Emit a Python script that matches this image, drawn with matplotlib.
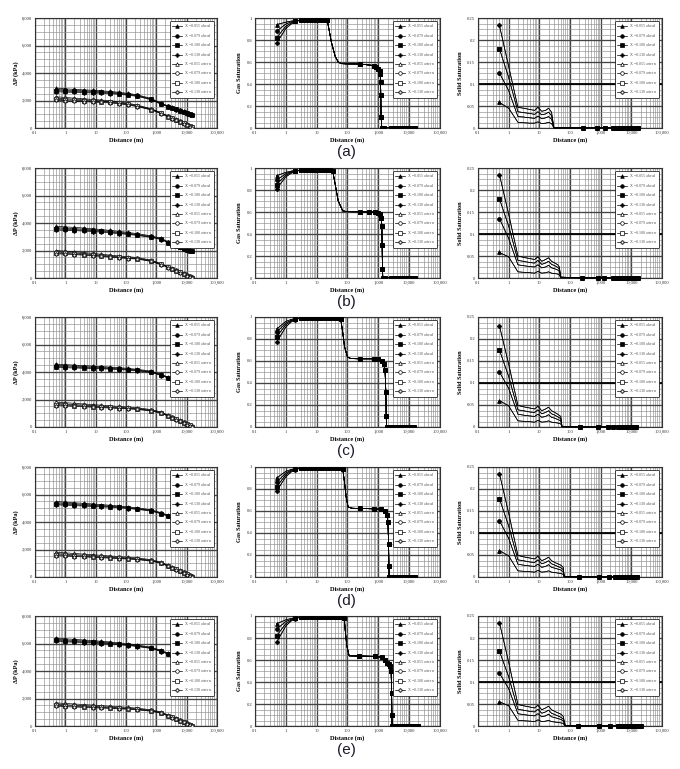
import matplotlib
matplotlib.use('Agg')
import matplotlib.pyplot as plt
from matplotlib.ticker import LogLocator, MultipleLocator, FuncFormatter, NullFormatter

plt.rcParams['font.family'] = ['Liberation Serif', 'DejaVu Serif']
plt.rcParams['mathtext.fontset'] = 'stix'

# ---------------- data ----------------
xs_labels = ['0.055', '0.079', '0.100', '0.130']
row_names = ['(a)', '(b)', '(c)', '(d)', '(e)']

# Pressure drop panels (shared x grid)
dp_x = [0.5, 1, 2, 4, 8, 15, 30, 60, 120, 235, 680, 1450, 2500, 3400, 4500, 6000, 8000, 10500, 13000, 15500]

dp_ahead_a = [
    [2900, 2850, 2810, 2775, 2740, 2705, 2660, 2595, 2510, 2415, 2145, 1800, 1605, 1505, 1400, 1300, 1210, 1110, 1040, 990],
    [2800, 2760, 2730, 2700, 2670, 2640, 2600, 2540, 2460, 2370, 2110, 1770, 1580, 1480, 1380, 1280, 1190, 1090, 1020, 970],
    [2720, 2685, 2660, 2635, 2610, 2585, 2550, 2495, 2420, 2335, 2080, 1745, 1560, 1460, 1360, 1260, 1170, 1070, 1000, 950],
    [2640, 2610, 2590, 2570, 2550, 2530, 2500, 2450, 2380, 2300, 2055, 1725, 1540, 1440, 1340, 1240, 1150, 1050, 980, 930]]
dp_astern_a = [
    [2270, 2220, 2170, 2125, 2080, 2035, 1980, 1900, 1795, 1660, 1400, 1105, 865, 735, 620, 495, 375, 255, 165, 90],
    [2170, 2130, 2090, 2050, 2010, 1970, 1920, 1850, 1750, 1620, 1370, 1080, 845, 715, 600, 475, 355, 235, 145, 70],
    [2090, 2055, 2020, 1985, 1950, 1915, 1870, 1805, 1710, 1585, 1345, 1060, 825, 695, 580, 455, 335, 215, 125, 50],
    [2010, 1980, 1950, 1920, 1890, 1860, 1820, 1760, 1670, 1550, 1320, 1040, 805, 675, 560, 435, 315, 195, 105, 30]]

dp_ahead_b = [
    [3760, 3715, 3680, 3635, 3580, 3525, 3460, 3385, 3310, 3225, 3065, 2885, 2630, 2505, 2395, 2280, 2180, 2090, 2040, 2000],
    [3660, 3620, 3590, 3550, 3500, 3450, 3390, 3320, 3250, 3170, 3020, 2850, 2600, 2480, 2370, 2260, 2160, 2070, 2020, 1980],
    [3580, 3545, 3515, 3480, 3435, 3390, 3335, 3270, 3205, 3130, 2985, 2820, 2575, 2455, 2345, 2240, 2140, 2050, 2000, 1960],
    [3500, 3470, 3445, 3415, 3375, 3335, 3285, 3225, 3165, 3095, 2955, 2795, 2555, 2435, 2325, 2220, 2120, 2030, 1980, 1940]]
dp_astern_b = [
    [2000, 1950, 1905, 1850, 1785, 1730, 1665, 1600, 1545, 1490, 1300, 1040, 815, 695, 580, 460, 345, 225, 145, 75],
    [1900, 1860, 1820, 1770, 1710, 1660, 1600, 1540, 1490, 1440, 1260, 1010, 790, 670, 555, 435, 320, 200, 120, 50],
    [1820, 1785, 1750, 1705, 1650, 1605, 1550, 1495, 1450, 1405, 1230, 985, 770, 650, 535, 415, 300, 180, 100, 30],
    [1760, 1730, 1700, 1660, 1610, 1570, 1515, 1460, 1415, 1375, 1205, 965, 750, 630, 515, 395, 280, 160, 80, 10]]

dp_ahead_c = [
    [4570, 4535, 4500, 4465, 4430, 4395, 4360, 4315, 4260, 4195, 4060, 3825, 3630, 3515, 3415, 3310, 3210, 3110, 3040, 2990],
    [4480, 4450, 4420, 4390, 4360, 4330, 4300, 4260, 4210, 4150, 4020, 3790, 3600, 3490, 3390, 3290, 3190, 3090, 3020, 2970],
    [4400, 4375, 4350, 4325, 4300, 4275, 4250, 4215, 4170, 4115, 3990, 3765, 3580, 3470, 3370, 3270, 3170, 3070, 3000, 2950],
    [4330, 4310, 4290, 4270, 4250, 4230, 4210, 4175, 4135, 4085, 3965, 3745, 3560, 3450, 3350, 3250, 3150, 3050, 2980, 2930]]
dp_astern_c = [
    [1810, 1765, 1720, 1675, 1630, 1585, 1540, 1495, 1450, 1395, 1265, 1085, 850, 725, 610, 485, 365, 240, 155, 75],
    [1710, 1670, 1630, 1590, 1550, 1510, 1470, 1430, 1390, 1340, 1220, 1050, 820, 700, 585, 460, 340, 215, 130, 50],
    [1630, 1595, 1560, 1525, 1490, 1455, 1420, 1385, 1350, 1305, 1190, 1025, 800, 680, 565, 440, 320, 195, 110, 30],
    [1560, 1530, 1500, 1470, 1440, 1410, 1380, 1345, 1315, 1275, 1165, 1005, 780, 660, 545, 420, 300, 175, 90, 10]]

dp_ahead_d = [
    [5490, 5445, 5400, 5355, 5310, 5265, 5220, 5165, 5100, 5025, 4890, 4675, 4490, 4385, 4285, 4180, 4090, 4000, 3940, 3900],
    [5400, 5360, 5320, 5280, 5240, 5200, 5160, 5110, 5050, 4980, 4850, 4640, 4460, 4360, 4260, 4160, 4070, 3980, 3920, 3880],
    [5320, 5285, 5250, 5215, 5180, 5145, 5110, 5065, 5010, 4945, 4820, 4615, 4440, 4340, 4240, 4140, 4050, 3960, 3900, 3860],
    [5250, 5220, 5190, 5160, 5130, 5100, 5070, 5030, 4980, 4915, 4795, 4595, 4420, 4320, 4220, 4120, 4030, 3940, 3880, 3840]]
dp_astern_d = [
    [1800, 1755, 1710, 1665, 1620, 1575, 1530, 1485, 1440, 1385, 1255, 1075, 840, 715, 600, 475, 355, 235, 150, 75],
    [1700, 1660, 1620, 1580, 1540, 1500, 1460, 1420, 1380, 1330, 1210, 1040, 810, 690, 575, 450, 330, 210, 125, 50],
    [1620, 1585, 1550, 1515, 1480, 1445, 1410, 1375, 1340, 1295, 1180, 1015, 790, 670, 555, 430, 310, 190, 105, 30],
    [1550, 1520, 1490, 1460, 1430, 1400, 1370, 1335, 1305, 1265, 1155, 995, 770, 650, 535, 410, 290, 170, 85, 10]]

dp_ahead_e = [
    [6390, 6345, 6300, 6255, 6210, 6165, 6110, 6045, 5970, 5885, 5730, 5495, 5290, 5175, 5075, 4960, 4860, 4770, 4710, 4670],
    [6300, 6260, 6220, 6180, 6140, 6100, 6050, 5990, 5920, 5840, 5690, 5460, 5260, 5150, 5050, 4940, 4840, 4750, 4690, 4650],
    [6220, 6185, 6150, 6115, 6080, 6045, 6000, 5945, 5880, 5805, 5660, 5435, 5240, 5130, 5030, 4920, 4820, 4730, 4670, 4630],
    [6150, 6120, 6090, 6060, 6030, 6000, 5960, 5910, 5850, 5780, 5640, 5415, 5220, 5110, 5010, 4900, 4800, 4710, 4650, 4610]]
dp_astern_e = [
    [1680, 1640, 1600, 1560, 1520, 1480, 1440, 1395, 1350, 1295, 1175, 1005, 790, 670, 560, 440, 325, 210, 130, 55],
    [1580, 1545, 1510, 1475, 1440, 1405, 1370, 1330, 1290, 1240, 1130, 970, 760, 645, 535, 415, 300, 185, 105, 30],
    [1500, 1470, 1440, 1410, 1380, 1350, 1320, 1285, 1250, 1205, 1100, 945, 740, 625, 515, 395, 280, 165, 85, 15],
    [1430, 1405, 1380, 1355, 1330, 1305, 1280, 1245, 1215, 1175, 1075, 925, 720, 605, 495, 375, 260, 145, 65, 0]]

# Gas saturation panels: head (first 4 points) differs per X_s, tail shared
gas_x_a = [0.5, 1, 1.5, 2, 3, 4, 5, 6, 8, 10, 12, 15, 18, 22, 25, 30, 40, 50, 63, 100, 250, 700, 850, 1000,
           1100, 1150, 1180, 1200, 1230, 1300, 1500, 2600, 3200, 4000, 5000, 6000, 7500, 9000, 11000, 13000, 16000]
gas_head_a = [[0.94, 0.962, 0.972, 0.977], [0.88, 0.945, 0.965, 0.974],
              [0.82, 0.925, 0.955, 0.97], [0.77, 0.905, 0.945, 0.965]]
gas_tail_a = [0.98, 0.98, 0.98, 0.98, 0.98, 0.98, 0.98, 0.98, 0.98, 0.978, 0.9, 0.78, 0.65, 0.6, 0.585, 0.583,
              0.582, 0.568, 0.558, 0.54, 0.52, 0.49, 0.42, 0.3, 0.1, 0.0,
              0, 0, 0, 0, 0, 0, 0, 0, 0, 0, 0]

gas_x_b = [0.5, 1, 1.5, 2, 3, 4, 5, 6, 8, 10, 12, 15, 18, 22, 27, 33, 40, 50, 70, 100, 250, 500, 800, 1000,
           1150, 1250, 1300, 1330, 1360, 1400, 1600, 2500, 3300, 4200, 5200, 6500, 8000, 10000, 12500, 15500]
gas_head_b = [[0.93, 0.96, 0.972, 0.977], [0.89, 0.948, 0.966, 0.974],
              [0.85, 0.935, 0.96, 0.97], [0.81, 0.92, 0.952, 0.966]]
gas_tail_b = [0.98, 0.98, 0.98, 0.98, 0.98, 0.98, 0.98, 0.98, 0.98, 0.98, 0.98, 0.975,
              0.85, 0.7, 0.61, 0.603, 0.602, 0.6, 0.598, 0.59, 0.578, 0.55, 0.47, 0.3, 0.08, 0.0,
              0, 0, 0, 0, 0, 0, 0, 0, 0, 0]

gas_x_c = [0.5, 1, 1.5, 2, 3, 4, 5, 7, 10, 14, 20, 28, 40, 50, 60, 70, 80, 100, 130, 250, 700, 1000, 1300,
           1500, 1650, 1750, 1800, 1850, 2000, 2600, 3300, 4200, 5200, 6500, 8000, 10000, 12000, 14000]
gas_head_c = [[0.89, 0.96, 0.978, 0.985], [0.86, 0.945, 0.97, 0.982],
              [0.82, 0.93, 0.963, 0.978], [0.77, 0.91, 0.955, 0.974]]
gas_tail_c = [0.99, 0.99, 0.99, 0.99, 0.99, 0.99, 0.99, 0.99, 0.99, 0.99, 0.985,
              0.86, 0.73, 0.635, 0.622, 0.62, 0.62, 0.615, 0.6, 0.575, 0.52, 0.32, 0.1, 0.0,
              0, 0, 0, 0, 0, 0, 0, 0, 0, 0]

gas_x_d = [0.5, 1, 1.5, 2, 3, 4, 5, 7, 10, 14, 20, 28, 40, 55, 70, 80, 90, 105, 140, 250, 700, 1200, 1600,
           1900, 2050, 2150, 2200, 2250, 2500, 3200, 4000, 5000, 6300, 8000, 10000, 12500, 15000]
gas_head_d = [[0.90, 0.96, 0.978, 0.985], [0.86, 0.945, 0.97, 0.982],
              [0.82, 0.93, 0.963, 0.978], [0.78, 0.912, 0.955, 0.974]]
gas_tail_d = [0.99, 0.99, 0.99, 0.99, 0.99, 0.99, 0.99, 0.99, 0.99, 0.99, 0.985,
              0.86, 0.73, 0.635, 0.625, 0.623, 0.62, 0.615, 0.6, 0.565, 0.5, 0.3, 0.1, 0.0,
              0, 0, 0, 0, 0, 0, 0, 0, 0]

gas_x_e = [0.5, 1, 1.5, 2, 3, 4, 5, 7, 10, 14, 20, 28, 40, 55, 70, 78, 85, 95, 113, 240, 760, 1300, 1700,
           1900, 2300, 2400, 2600, 2700, 2750, 2800, 3700, 4500, 5500, 6800, 8500, 10500, 13000, 16000, 20000]
gas_head_e = [[0.93, 0.965, 0.978, 0.985], [0.88, 0.95, 0.97, 0.982],
              [0.82, 0.93, 0.963, 0.978], [0.76, 0.91, 0.955, 0.974]]
gas_tail_e = [0.99, 0.99, 0.99, 0.99, 0.99, 0.99, 0.99, 0.99, 0.99, 0.99, 0.99, 0.985,
              0.86, 0.73, 0.638, 0.636, 0.633, 0.625, 0.6, 0.575, 0.56, 0.55, 0.5, 0.3, 0.1, 0.0,
              0, 0, 0, 0, 0, 0, 0, 0, 0]

# Solid saturation panels
sol_x_a = [0.5, 1, 2, 3, 5, 7, 9, 12, 16, 20, 25, 30,
           265, 760, 1400, 2500, 3500, 4500, 5500, 6500, 7500, 8500, 10000, 12000, 14000, 16000]
sol_a = [
    [0.058, 0.045, 0.013, 0.012, 0.011, 0.011, 0.014, 0.010, 0.011, 0.013, 0.010, 0.0],
    [0.125, 0.085, 0.026, 0.025, 0.023, 0.022, 0.027, 0.021, 0.023, 0.026, 0.020, 0.0],
    [0.180, 0.115, 0.037, 0.035, 0.033, 0.031, 0.037, 0.030, 0.032, 0.036, 0.028, 0.0],
    [0.233, 0.140, 0.047, 0.045, 0.042, 0.040, 0.047, 0.038, 0.040, 0.045, 0.036, 0.0]]
sol_zero_a = [0, 0, 0, 0, 0, 0, 0, 0, 0, 0, 0, 0, 0, 0]

sol_x_b = [0.5, 1, 2, 3, 5, 7, 9, 12, 16, 20, 25, 32, 40, 45, 50,
           250, 800, 1300, 2500, 3500, 4500, 5500, 6500, 7500, 8500, 10000, 12000, 14000, 16000]
sol_b = [
    [0.058, 0.048, 0.014, 0.013, 0.012, 0.011, 0.015, 0.011, 0.012, 0.014, 0.011, 0.010, 0.009, 0.007, 0.0],
    [0.135, 0.090, 0.030, 0.028, 0.026, 0.025, 0.030, 0.023, 0.025, 0.029, 0.023, 0.021, 0.018, 0.015, 0.001],
    [0.180, 0.118, 0.040, 0.038, 0.035, 0.034, 0.040, 0.031, 0.034, 0.038, 0.031, 0.028, 0.024, 0.020, 0.002],
    [0.235, 0.145, 0.050, 0.047, 0.044, 0.042, 0.048, 0.038, 0.042, 0.046, 0.038, 0.034, 0.030, 0.025, 0.002]]
sol_zero_b = [0, 0, 0, 0, 0, 0, 0, 0, 0, 0, 0, 0, 0, 0]

sol_x_c = [0.5, 1, 2, 3, 5, 7, 9, 12, 16, 20, 25, 32, 40, 50, 55,
           210, 800, 1700, 2600, 3600, 4600, 5600, 6600, 7600, 8800, 10000, 11500, 13000, 14000]
sol_c = [
    [0.060, 0.048, 0.014, 0.013, 0.012, 0.011, 0.015, 0.011, 0.012, 0.014, 0.011, 0.010, 0.009, 0.007, 0.0],
    [0.125, 0.088, 0.029, 0.027, 0.025, 0.024, 0.029, 0.022, 0.024, 0.028, 0.022, 0.020, 0.017, 0.014, 0.0],
    [0.175, 0.115, 0.039, 0.037, 0.034, 0.033, 0.039, 0.030, 0.033, 0.037, 0.030, 0.027, 0.023, 0.019, 0.001],
    [0.230, 0.143, 0.049, 0.046, 0.043, 0.041, 0.047, 0.037, 0.041, 0.045, 0.037, 0.033, 0.029, 0.024, 0.001]]
sol_zero_c = [0, 0, 0, 0, 0, 0, 0, 0, 0, 0, 0, 0, 0, 0]

sol_x_d = [0.5, 1, 2, 3, 5, 7, 9, 12, 16, 20, 25, 32, 40, 50, 60, 65,
           200, 850, 1900, 3000, 4000, 5000, 6000, 7000, 8000, 9500, 11000, 12500, 14000, 15000]
sol_d = [
    [0.060, 0.048, 0.014, 0.013, 0.012, 0.011, 0.015, 0.011, 0.012, 0.014, 0.011, 0.010, 0.009, 0.008, 0.006, 0.0],
    [0.128, 0.088, 0.029, 0.027, 0.025, 0.024, 0.029, 0.022, 0.024, 0.028, 0.022, 0.020, 0.018, 0.016, 0.012, 0.0],
    [0.178, 0.116, 0.039, 0.037, 0.034, 0.033, 0.039, 0.030, 0.033, 0.037, 0.030, 0.027, 0.024, 0.021, 0.017, 0.001],
    [0.235, 0.145, 0.049, 0.046, 0.043, 0.041, 0.047, 0.037, 0.041, 0.045, 0.037, 0.033, 0.030, 0.027, 0.022, 0.001]]
sol_zero_d = [0, 0, 0, 0, 0, 0, 0, 0, 0, 0, 0, 0, 0, 0]

sol_x_e = [0.5, 1, 2, 3, 5, 7, 9, 12, 16, 20, 25, 32, 40, 50, 60, 70,
           180, 900, 2000, 3700, 4500, 5500, 6800, 8500, 10500, 13000, 16000, 18000, 20000]
sol_e = [
    [0.055, 0.046, 0.013, 0.012, 0.011, 0.010, 0.014, 0.010, 0.011, 0.013, 0.010, 0.009, 0.008, 0.007, 0.006, 0.0],
    [0.120, 0.085, 0.028, 0.026, 0.024, 0.023, 0.028, 0.021, 0.023, 0.027, 0.021, 0.019, 0.017, 0.015, 0.012, 0.0],
    [0.170, 0.112, 0.038, 0.036, 0.033, 0.032, 0.038, 0.029, 0.032, 0.036, 0.029, 0.026, 0.023, 0.020, 0.016, 0.001],
    [0.235, 0.145, 0.049, 0.046, 0.043, 0.041, 0.047, 0.037, 0.041, 0.045, 0.037, 0.033, 0.030, 0.027, 0.022, 0.001]]
sol_zero_e = [0, 0, 0, 0, 0, 0, 0, 0, 0, 0, 0, 0, 0]

x_tick_labels = {0.1: '0.1', 1: '1', 10: '10', 100: '100', 1000: '1,000', 10000: '10,000', 100000: '100,000'}

rows = [
    (dp_ahead_a, dp_astern_a, gas_x_a, gas_head_a, gas_tail_a, sol_x_a, sol_a, sol_zero_a),
    (dp_ahead_b, dp_astern_b, gas_x_b, gas_head_b, gas_tail_b, sol_x_b, sol_b, sol_zero_b),
    (dp_ahead_c, dp_astern_c, gas_x_c, gas_head_c, gas_tail_c, sol_x_c, sol_c, sol_zero_c),
    (dp_ahead_d, dp_astern_d, gas_x_d, gas_head_d, gas_tail_d, sol_x_d, sol_d, sol_zero_d),
    (dp_ahead_e, dp_astern_e, gas_x_e, gas_head_e, gas_tail_e, sol_x_e, sol_e, sol_zero_e),
]

# ---------------- styling ----------------
W, H = 680, 769
col_left = [35, 255, 478]
col_w = [182, 185, 184]
row_tops = [18, 168, 317, 467, 616]
ax_h = 110
markers = ['^', 'o', 's', 'P']
lab_ahead = ['X$_s$=%s ahead' % s for s in xs_labels]
lab_astern = ['X$_s$=%s astern' % s for s in xs_labels]

fig = plt.figure(figsize=(W / 100, H / 100), dpi=100)


def setup(ax, kind):
    ax.set_xscale('log')
    ax.set_xlim(0.1, 100000)
    ax.xaxis.set_major_locator(LogLocator(base=10, numticks=12))
    ax.xaxis.set_minor_locator(LogLocator(base=10, subs=range(2, 10), numticks=12))
    ax.xaxis.set_major_formatter(FuncFormatter(lambda v, p: x_tick_labels.get(round(v, 6) if v < 1 else int(round(v)), '')))
    ax.xaxis.set_minor_formatter(NullFormatter())
    if kind == 'dp':
        ax.set_ylim(0, 8000)
        ax.yaxis.set_major_locator(MultipleLocator(2000))
        ax.yaxis.set_minor_locator(MultipleLocator(500))
        ax.yaxis.set_major_formatter(FuncFormatter(lambda v, p: '{:,.0f}'.format(v)))
        ax.set_ylabel('ΔP (kPa)', fontsize=4.5, fontweight='bold', labelpad=2)
    elif kind == 'gas':
        ax.set_ylim(0, 1)
        ax.yaxis.set_major_locator(MultipleLocator(0.2))
        ax.yaxis.set_minor_locator(MultipleLocator(0.05))
        ax.yaxis.set_major_formatter(FuncFormatter(lambda v, p: '%g' % round(v, 2)))
        ax.set_ylabel('Gas Saturation', fontsize=4.5, fontweight='bold', labelpad=3)
    else:
        ax.set_ylim(0, 0.25)
        ax.yaxis.set_major_locator(MultipleLocator(0.05))
        ax.yaxis.set_minor_locator(MultipleLocator(0.0125))
        ax.yaxis.set_major_formatter(FuncFormatter(lambda v, p: '%g' % round(v, 3)))
        ax.set_ylabel('Solid Saturation', fontsize=4.5, fontweight='bold', labelpad=3)
        ax.axhline(0.1, color='black', lw=1.3, zorder=1)
    ax.grid(which='minor', color='#8f8f8f', lw=0.45, zorder=0)
    ax.grid(which='major', color='#444444', lw=0.95, zorder=0)
    ax.set_axisbelow(True)
    ax.tick_params(which='both', length=0, labelsize=3.3, pad=2, colors='#333333')
    for s in ax.spines.values():
        s.set_color('#333333')
        s.set_linewidth(0.8)
    ax.set_xlabel('Distance (m)', fontsize=4.5, fontweight='bold', labelpad=2)


def add_legend(ax, handles):
    lg = ax.legend(handles=handles, loc='upper right', bbox_to_anchor=(0.985, 0.975), fontsize=2.9,
                   frameon=True, fancybox=True, edgecolor='black', framealpha=1, borderpad=0.5,
                   labelspacing=0.45, handlelength=2.4, handletextpad=0.6, borderaxespad=0)
    lg.get_frame().set_linewidth(0.5)
    for t in lg.get_texts():
        t.set_color('#555555')


for r, (dpa, dps, gx, ghead, gtail, sx, sser, szero) in enumerate(rows):
    bottom = 1 - (row_tops[r] + ax_h) / H
    axes = []
    for c in range(3):
        ax = fig.add_axes([col_left[c] / W, bottom, col_w[c] / W, ax_h / H])
        axes.append(ax)
    ax_dp, ax_gas, ax_sol = axes
    setup(ax_dp, 'dp')
    setup(ax_gas, 'gas')
    setup(ax_sol, 'sol')

    # pressure drop
    h_ahead, h_astern = [], []
    for i in range(4):
        ln, = ax_dp.plot(dp_x, dps[i], color='black', lw=0.5, marker=markers[i], ms=2.6,
                         mfc='white', mec='black', mew=0.5, label=lab_astern[i], zorder=3)
        h_astern.append(ln)
    for i in range(4):
        ln, = ax_dp.plot(dp_x, dpa[i], color='black', lw=0.5, marker=markers[i], ms=2.6,
                         mfc='black', mec='black', mew=0.5, label=lab_ahead[i], zorder=3)
        h_ahead.append(ln)
    add_legend(ax_dp, h_ahead + h_astern)

    # gas saturation: markers at start, on plateau, and beyond 200 m
    h_ahead, h_astern = [], []
    for i in range(4):
        gy = ghead[i] + gtail
        mk = [k for k in range(len(gx)) if k == 0 or (gx[k] >= 2 and gy[k] >= 0.97) or gx[k] >= 200]
        ln, = ax_gas.plot(gx, gy, color='black', lw=0.5, marker=markers[i], ms=2.6, markevery=mk,
                          mfc='white', mec='black', mew=0.5, label=lab_astern[i], zorder=3)
        h_astern.append(ln)
    for i in range(4):
        gy = ghead[i] + gtail
        mk = [k for k in range(len(gx)) if k == 0 or (gx[k] >= 2 and gy[k] >= 0.97) or gx[k] >= 200]
        ln, = ax_gas.plot(gx, gy, color='black', lw=0.5, marker=markers[i], ms=2.6, markevery=mk,
                          mfc='black', mec='black', mew=0.5, label=lab_ahead[i], zorder=4)
        h_ahead.append(ln)
    add_legend(ax_gas, h_ahead + h_astern)

    # solid saturation: markers at start and at the zero points
    h_ahead, h_astern = [], []
    for i in range(4):
        sy = sser[i] + szero
        mk = [0] + list(range(len(sser[i]), len(sx)))
        ln, = ax_sol.plot(sx, sy, color='black', lw=0.5, marker=markers[i], ms=2.6, markevery=mk,
                          mfc='white', mec='black', mew=0.5, label=lab_astern[i], zorder=3)
        h_astern.append(ln)
    for i in range(4):
        sy = sser[i] + szero
        mk = [0] + list(range(len(sser[i]), len(sx)))
        ln, = ax_sol.plot(sx, sy, color='black', lw=0.5, marker=markers[i], ms=2.6, markevery=mk,
                          mfc='black', mec='black', mew=0.5, label=lab_ahead[i], zorder=4, clip_on=False)
        h_ahead.append(ln)
    add_legend(ax_sol, h_ahead + h_astern)

    fig.text(346 / W, 1 - (row_tops[r] + 134) / H, row_names[r], ha='center', va='center',
             fontsize=11, family=['Liberation Sans', 'DejaVu Sans'], color='#1a1a2a')

fig.savefig('out.png', dpi=100)
